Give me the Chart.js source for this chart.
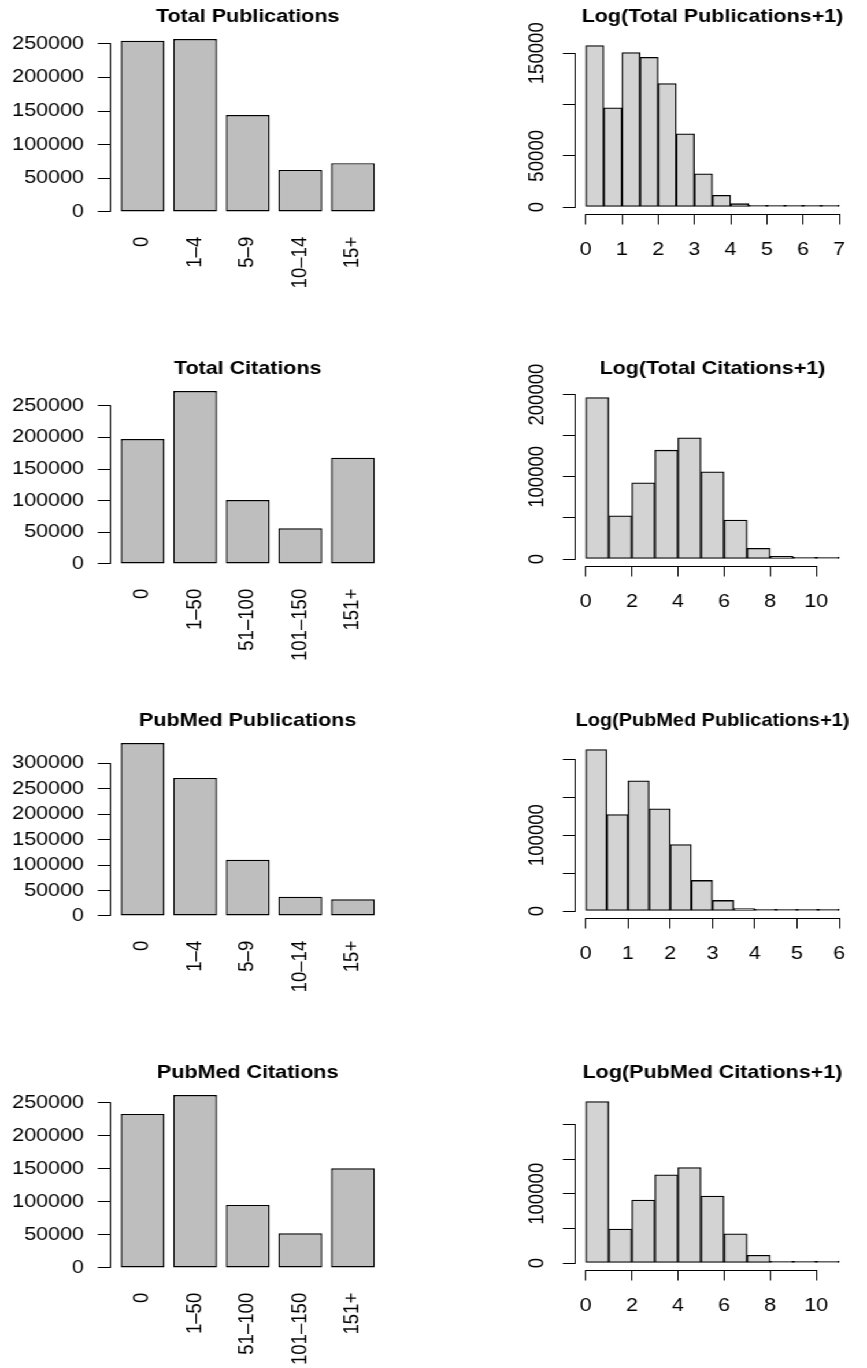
<!DOCTYPE html>
<html><head><meta charset="utf-8">
<script src="https://cdn.jsdelivr.net/npm/chart.js@4.4.1/dist/chart.umd.min.js"></script>
<style>
html,body{margin:0;padding:0;background:#fff;overflow:hidden;width:867px;height:1368px;}
#wrap{position:absolute;left:0;top:0;width:750px;height:1368px;transform:scaleX(1.156);transform-origin:0 0;overflow:hidden;background:#fff;}
canvas{position:absolute;}
</style></head><body><div id="wrap"></div>
<script>
// ---------- data ----------
const pubCategories = ["0", "1–4", "5–9", "10–14", "15+"];
const citCategories = ["0", "1–50", "51–100", "101–150", "151+"];

const totalPubCounts  = [254500, 257000, 143900, 62500, 72500];
const totalCitCounts  = [197400, 273200, 101000, 56300, 167900];
const pubmedPubCounts = [339800, 271200, 110400, 37900, 32700];
const pubmedCitCounts = [232900, 261600, 95300, 52400, 150700];

const barTicks250 = [0, 50000, 100000, 150000, 200000, 250000];
const barLabels250 = ["0", "50000", "100000", "150000", "200000", "250000"];
const barTicks300 = [0, 50000, 100000, 150000, 200000, 250000, 300000];
const barLabels300 = ["0", "50000", "100000", "150000", "200000", "250000", "300000"];

const logTotalPubBreaks = [0, 0.5, 1, 1.5, 2, 2.5, 3, 3.5, 4, 4.5, 5, 5.5, 6, 6.5, 7];
const logTotalPubCounts = [157500, 96700, 150600, 146000, 120400, 71400, 32400, 11400, 3300, 900, 350, 200, 80, 40];
const logTotalPubXTicks = [0, 1, 2, 3, 4, 5, 6, 7];
const logTotalPubYTicks = [0, 50000, 100000, 150000];
const logTotalPubYLabels = ["0", "50000", "", "150000"];

const logTotalCitBreaks = [0, 1, 2, 3, 4, 5, 6, 7, 8, 9, 10, 11];
const logTotalCitCounts = [196400, 52600, 92700, 132400, 147400, 106100, 47400, 13000, 3200, 800, 200];
const logTotalCitXTicks = [0, 2, 4, 6, 8, 10];
const logTotalCitYTicks = [0, 50000, 100000, 150000, 200000];
const logTotalCitYLabels = ["0", "", "100000", "", "200000"];

const logPubmedPubBreaks = [0, 0.5, 1, 1.5, 2, 2.5, 3, 3.5, 4, 4.5, 5, 5.5, 6];
const logPubmedPubCounts = [212700, 127200, 171500, 134700, 87700, 40350, 14000, 3300, 1000, 400, 250, 80];
const logPubmedPubXTicks = [0, 1, 2, 3, 4, 5, 6];
const logPubmedPubYTicks = [0, 50000, 100000, 150000, 200000];
const logPubmedPubYLabels = ["0", "", "100000", "", ""];

const logPubmedCitBreaks = [0, 1, 2, 3, 4, 5, 6, 7, 8, 9, 10, 11];
const logPubmedCitCounts = [233200, 49000, 90900, 127400, 138000, 96600, 42300, 11300, 2200, 700, 200];
const logPubmedCitXTicks = [0, 2, 4, 6, 8, 10];
const logPubmedCitYTicks = [0, 50000, 100000, 150000, 200000];
const logPubmedCitYLabels = ["0", "", "100000", "", ""];

// ---------- style / layout ----------
const FONT = "'Liberation Sans', Arial, Helvetica, sans-serif";
const FS = 18.6;
Chart.defaults.font.family = FONT;
Chart.defaults.font.size = FS;
Chart.defaults.color = '#000';

const PW = 375, PH = 352;
const wrap = document.getElementById('wrap');

const rAxis = {
  id: 'rAxis',
  afterDraw(chart, args, opts) {
    if (!opts || !opts.axes) return;
    const ctx = chart.ctx, ca = chart.chartArea;
    ctx.save();
    ctx.strokeStyle = '#000';
    ctx.lineWidth = 1;
    ctx.beginPath();
    opts.axes.forEach(id => {
      const sc = chart.scales[id];
      const t = sc.ticks;
      const p0 = sc.getPixelForValue(t[0].value);
      const p1 = sc.getPixelForValue(t[t.length - 1].value);
      if (id === 'y') {
        const x = Math.round(ca.left) - 0.5;
        ctx.moveTo(x, Math.round(p0 - 0.5) + 1);
        ctx.lineTo(x, Math.round(p1 - 0.5));
      } else {
        const y = Math.round(ca.bottom) + 0.5;
        ctx.moveTo(Math.round(p0 - 0.5), y);
        ctx.lineTo(Math.round(p1 - 0.5) + 1, y);
      }
    });
    ctx.stroke();
    ctx.restore();
  }
};

function makeCanvas(left, top) {
  const c = document.createElement('canvas');
  c.width = PW; c.height = PH;
  c.style.left = left + 'px'; c.style.top = top + 'px';
  c.style.width = PW + 'px'; c.style.height = PH + 'px';
  wrap.appendChild(c);
  return c;
}

function titleOpts(text, total) {
  const lh = FS * 1.2;
  return { display: true, text: text, fullSize: false, color: '#000',
           font: { size: FS, weight: 'bold', family: FONT },
           padding: { top: 5.5, bottom: total - lh - 5.5 } };
}

function barPanel(left, top, title, cats, values, yTicks, yLabels) {
  const M = Math.max(...values);
  const centers = cats.map((_, i) => 0.7 + 1.2 * i);
  const xr = 5.8;
  new Chart(makeCanvas(left, top), {
    type: 'bar',
    data: { datasets: [{
      data: values.map((v, i) => ({ x: centers[i], y: v })),
      backgroundColor: '#BEBEBE', borderColor: '#000', borderWidth: 1.4, borderSkipped: false,
      barPercentage: 1 / 1.2, categoryPercentage: 1
    }] },
    options: {
      responsive: false, animation: false, devicePixelRatio: 1, events: [],
      layout: { padding: { left: 0, top: 0, right: 42, bottom: 0 } },
      plugins: { legend: { display: false }, tooltip: { enabled: false },
                 title: titleOpts(title, 32.0), rAxis: { axes: ['y'] } },
      scales: {
        x: { type: 'linear', min: 0.2 - 0.04 * xr, max: 6.0 + 0.04 * xr, bounds: 'data', offset: false,
             afterBuildTicks: s => { s.ticks = centers.map(v => ({ value: v })); },
             ticks: { callback: (v, i) => cats[i], minRotation: 90, maxRotation: 90, padding: 16, autoSkip: false },
             grid: { display: false, drawTicks: false, offset: false }, border: { display: false },
             afterFit: s => { s.height = PH - 220.7; } },
        y: { type: 'linear', min: -0.0504 * M, max: 1.0404 * M, bounds: 'data',
             afterBuildTicks: s => { s.ticks = yTicks.map(v => ({ value: v })); },
             ticks: { callback: (v, i) => yLabels[i], padding: 12, autoSkip: false },
             grid: { drawOnChartArea: false, drawTicks: true, tickLength: 11, color: '#000', lineWidth: 1 },
             border: { display: false },
             afterFit: s => { s.width = 95.6; } }
      }
    },
    plugins: [rAxis]
  });
}

function histPanel(left, top, title, breaks, counts, xTicks, yTicks, yLabels) {
  const M = Math.max(...counts);
  const b0 = breaks[0], bN = breaks[breaks.length - 1], xr = bN - b0;
  new Chart(makeCanvas(left, top), {
    type: 'bar',
    data: { datasets: [{
      data: counts.map((v, i) => ({ x: (breaks[i] + breaks[i + 1]) / 2, y: v })),
      backgroundColor: '#D3D3D3', borderColor: '#000', borderWidth: 1.3, borderSkipped: false,
      barPercentage: 1, categoryPercentage: 1, minBarLength: 1.6
    }] },
    options: {
      responsive: false, animation: false, devicePixelRatio: 1, events: [],
      layout: { padding: { left: 0, top: 0, right: 15.2, bottom: 0 } },
      plugins: { legend: { display: false }, tooltip: { enabled: false },
                 title: titleOpts(title, 39.1), rAxis: { axes: ['x', 'y'] } },
      scales: {
        x: { type: 'linear', min: b0 - 0.04 * xr, max: bN + 0.04 * xr, bounds: 'data', offset: false,
             afterBuildTicks: s => { s.ticks = xTicks.map(v => ({ value: v })); },
             ticks: { callback: (v, i) => String(xTicks[i]), maxRotation: 0, minRotation: 0, padding: 14.5, autoSkip: false },
             grid: { drawOnChartArea: false, drawTicks: true, tickLength: 11, color: '#000', lineWidth: 1, offset: false },
             border: { display: false },
             afterFit: s => { s.height = PH - 213.5; } },
        y: { type: 'linear', min: -0.04 * M, max: 1.04 * M, bounds: 'data',
             afterBuildTicks: s => { s.ticks = yTicks.map(v => ({ value: v })); },
             ticks: { callback: (v, i) => yLabels[i], minRotation: 90, maxRotation: 90, crossAlign: 'center', padding: -8.5, autoSkip: false },
             grid: { drawOnChartArea: false, drawTicks: true, tickLength: 11, color: '#000', lineWidth: 1 },
             border: { display: false },
             afterFit: s => { s.width = 122.9; } }
      }
    },
    plugins: [rAxis]
  });
}

barPanel(0, 0,        "Total Publications",  pubCategories, totalPubCounts,  barTicks250, barLabels250);
barPanel(0, PH,       "Total Citations",     citCategories, totalCitCounts,  barTicks250, barLabels250);
barPanel(0, 2 * PH,   "PubMed Publications", pubCategories, pubmedPubCounts, barTicks300, barLabels300);
barPanel(0, 3 * PH,   "PubMed Citations",    citCategories, pubmedCitCounts, barTicks250, barLabels250);

histPanel(PW, 0,      "Log(Total Publications+1)",  logTotalPubBreaks,  logTotalPubCounts,  logTotalPubXTicks,  logTotalPubYTicks,  logTotalPubYLabels);
histPanel(PW, PH,     "Log(Total Citations+1)",     logTotalCitBreaks,  logTotalCitCounts,  logTotalCitXTicks,  logTotalCitYTicks,  logTotalCitYLabels);
histPanel(PW, 2 * PH, "Log(PubMed Publications+1)", logPubmedPubBreaks, logPubmedPubCounts, logPubmedPubXTicks, logPubmedPubYTicks, logPubmedPubYLabels);
histPanel(PW, 3 * PH, "Log(PubMed Citations+1)",    logPubmedCitBreaks, logPubmedCitCounts, logPubmedCitXTicks, logPubmedCitYTicks, logPubmedCitYLabels);
</script>
</body></html>
